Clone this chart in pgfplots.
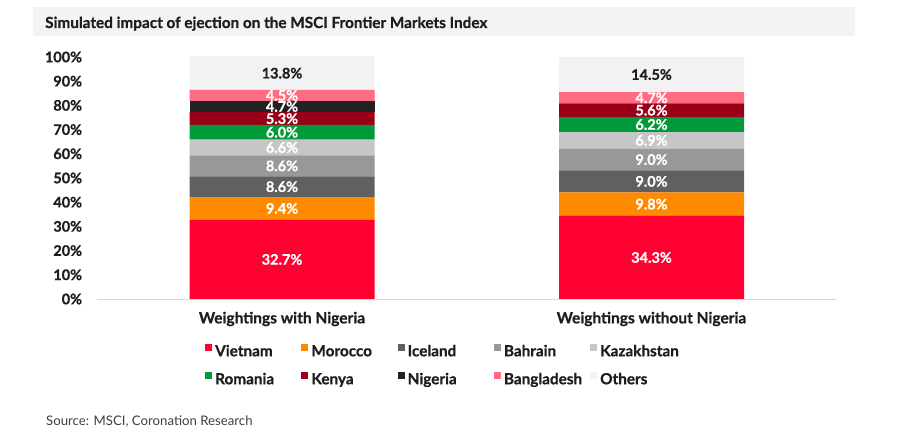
\documentclass[border=0pt]{standalone}
\usepackage{fontspec}
\setmainfont{Lato}[BoldFeatures={FakeBold=0.8}]
\usepackage{pgfplots}
\pgfplotsset{compat=1.18}
\definecolor{cVietnam}{HTML}{FF0030}
\definecolor{cMorocco}{HTML}{FF8A00}
\definecolor{cIceland}{HTML}{606060}
\definecolor{cBahrain}{HTML}{989898}
\definecolor{cKazakhstan}{HTML}{C6C6C6}
\definecolor{cRomania}{HTML}{009A3A}
\definecolor{cKenya}{HTML}{990017}
\definecolor{cNigeria}{HTML}{222222}
\definecolor{cBangladesh}{HTML}{FF6B80}
\definecolor{cOthers}{HTML}{F2F2F2}
\definecolor{band}{HTML}{F4F2F2}
\definecolor{txt}{HTML}{1E1E1E}
\begin{document}
\begin{tikzpicture}[x=1pt,y=1pt]
\path[use as bounding box,fill=white] (0,0) rectangle (900,439);
\fill[band] (33,439-36) rectangle (855,439-7);
\node[anchor=base west,inner sep=0pt,font=\fontsize{15.3}{18}\selectfont\bfseries,text=txt] at (45,439-28) {Simulated impact of ejection on the MSCI Frontier Markets Index};
\node[anchor=west,inner sep=0pt,font=\fontsize{13.2}{15}\selectfont,text=txt!85] at (46,439-422) {Source: MSCI, Coronation Research};
\begin{axis}[
  at={(97.25pt,140pt)}, anchor=south west,
  scale only axis, width=739pt, height=242.5pt,
  xmin=-0.5, xmax=1.5, ymin=0, ymax=100.2,
  ybar stacked, bar width=185pt,
  axis x line*=bottom, axis y line*=left,
  x axis line style={draw=black!15, -},
  y axis line style={draw=none},
  major tick length=0pt,
  /pgf/number format/assume math mode=true,
  xtick={0,1}, xticklabels={Weightings with Nigeria,Weightings without Nigeria},
  ytick={0,10,...,100},
  yticklabels={0\%,10\%,20\%,30\%,40\%,50\%,60\%,70\%,80\%,90\%,100\%},
  yticklabel style={anchor=east, inner sep=0pt, xshift=-15pt, font=\fontsize{14.5}{17}\selectfont\bfseries, text=txt},
  xticklabel style={anchor=center, inner sep=0pt, yshift=-20pt, font=\fontsize{15.5}{18}\selectfont\bfseries, text=txt},
  point meta=explicit,
  nodes near coords={\pgfmathfloatifflags{\pgfplotspointmeta}{0}{}{\pgfmathprintnumber[fixed,fixed zerofill,precision=1,assume math mode=true]{\pgfplotspointmeta}\%}},
  every node near coord/.append style={anchor=center, inner sep=0pt, font=\fontsize{14.5}{17}\selectfont\bfseries, text=white},
  legend columns=5,
  legend style={draw=none, fill=none, inner sep=0pt, at={(0.1458,-0.161)}, anchor=north west,
    font=\fontsize{15.3}{18}\selectfont\bfseries, text=txt,
    nodes={text width=80pt, inner xsep=3pt, align=left, text height=11pt, text depth=3pt, inner ysep=7pt},
    /tikz/every even column/.append style={column sep=3.25pt}},
  legend image code/.code={\fill[#1] (0pt,1pt) rectangle (7pt,8pt);},
]
\addplot+[fill=cVietnam, draw=none] coordinates {(0,32.7) [32.7] (1,34.3) [34.3]};
\addlegendentry{Vietnam}
\addplot+[fill=cMorocco, draw=none] coordinates {(0,9.4) [9.4] (1,9.8) [9.8]};
\addlegendentry{Morocco}
\addplot+[fill=cIceland, draw=none] coordinates {(0,8.6) [8.6] (1,9.0) [9.0]};
\addlegendentry{Iceland}
\addplot+[fill=cBahrain, draw=none] coordinates {(0,8.6) [8.6] (1,9.0) [9.0]};
\addlegendentry{Bahrain}
\addplot+[fill=cKazakhstan, draw=none] coordinates {(0,6.6) [6.6] (1,6.9) [6.9]};
\addlegendentry{Kazakhstan}
\addplot+[fill=cRomania, draw=none] coordinates {(0,6.0) [6.0] (1,6.2) [6.2]};
\addlegendentry{Romania}
\addplot+[fill=cKenya, draw=none] coordinates {(0,5.3) [5.3] (1,5.6) [5.6]};
\addlegendentry{Kenya}
\addplot+[fill=cNigeria, draw=none] coordinates {(0,4.7) [4.7] (1,0) [0]};
\addlegendentry{Nigeria}
\addplot+[fill=cBangladesh, draw=none] coordinates {(0,4.5) [4.5] (1,4.7) [4.7]};
\addlegendentry{Bangladesh}
\addplot+[fill=cOthers, draw=none, every node near coord/.append style={text=txt}] coordinates {(0,13.8) [13.8] (1,14.5) [14.5]};
\addlegendentry{Others}
\end{axis}
\end{tikzpicture}
\end{document}
